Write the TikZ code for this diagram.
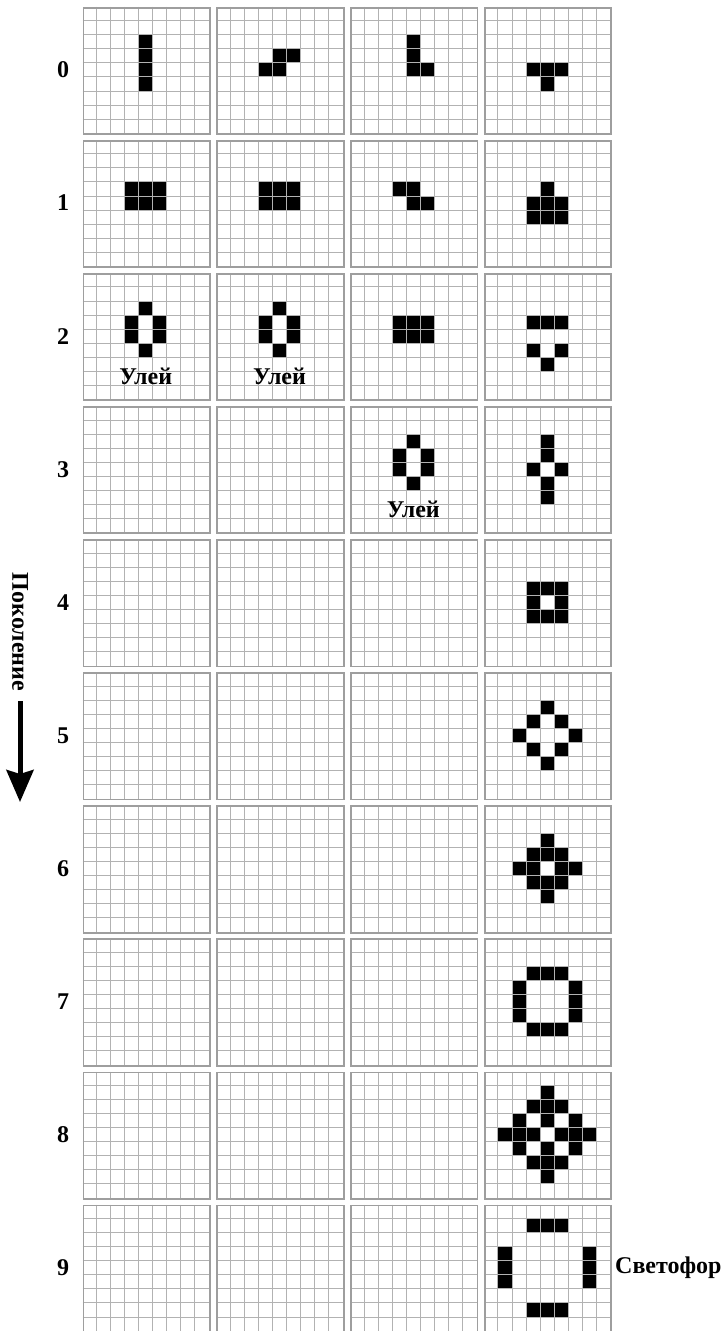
\documentclass[tikz,border=0pt]{standalone}
\usepackage{fontspec}
\setmainfont{Liberation Serif}
\usetikzlibrary{arrows.meta}
\definecolor{gridgray}{RGB}{178,178,178}
\definecolor{bordergray}{RGB}{158,158,158}
\newcommand\cellsz{14.05}
\newcommand\panelsz{126.45}
\tikzset{
  gridline/.style={draw=gridgray, line width=1pt},
  panelbox/.style={draw=bordergray, line width=1.8pt, anchor=north west, inner sep=0pt,
    minimum width=126.45pt, minimum height=126.45pt},
  lbl/.style={font=\fontsize{24}{28}\selectfont\bfseries, text=black},
  genarrow/.style={line width=5pt, -{Stealth[width=27pt,length=32pt,inset=4pt]}},
}
\newcommand\lifecells[3]{%
  \begin{scope}[shift={({82.5+133.8*#1},{6.7+133.1*#2})}]
    \foreach \i/\j in {#3} {\fill[black] ({\i*\cellsz},{\j*\cellsz}) rectangle ++(\cellsz,\cellsz);}
  \end{scope}}
\newcommand\lifepanel[2]{%
  \begin{scope}[shift={({82.5+133.8*#1},{6.7+133.1*#2})}]
    \foreach \k in {1,...,8} {
      \draw[gridline] ({\k*\cellsz},0) -- ({\k*\cellsz},\panelsz);
      \draw[gridline] (0,{\k*\cellsz}) -- (\panelsz,{\k*\cellsz});
    }
    \node[panelbox] (p#1#2) at (0,0) {};
  \end{scope}}
\begin{document}
\begin{tikzpicture}[x=1pt,y=-1pt]
\useasboundingbox (0,0) rectangle (728,1331);
\clip (0,0) rectangle (728,1331);
% generation 0
\lifecells{0}{0}{4/2,4/3,4/4,4/5}
\lifecells{1}{0}{4/3,5/3,3/4,4/4}
\lifecells{2}{0}{4/2,4/3,4/4,5/4}
\lifecells{3}{0}{3/4,4/4,5/4,4/5}
% generation 1
\lifecells{0}{1}{3/3,4/3,5/3,3/4,4/4,5/4}
\lifecells{1}{1}{3/3,4/3,5/3,3/4,4/4,5/4}
\lifecells{2}{1}{3/3,4/3,4/4,5/4}
\lifecells{3}{1}{4/3,3/4,4/4,5/4,3/5,4/5,5/5}
% generation 2
\lifecells{0}{2}{4/2,3/3,5/3,3/4,5/4,4/5}
\lifecells{1}{2}{4/2,3/3,5/3,3/4,5/4,4/5}
\lifecells{2}{2}{3/3,4/3,5/3,3/4,4/4,5/4}
\lifecells{3}{2}{3/3,4/3,5/3,3/5,5/5,4/6}
% generation 3
\lifecells{2}{3}{4/2,3/3,5/3,3/4,5/4,4/5}
\lifecells{3}{3}{4/2,4/3,3/4,5/4,4/5,4/6}
% generations 4-9
\lifecells{3}{4}{3/3,4/3,5/3,3/4,5/4,3/5,4/5,5/5}
\lifecells{3}{5}{4/2,3/3,5/3,2/4,6/4,3/5,5/5,4/6}
\lifecells{3}{6}{4/2,3/3,4/3,5/3,2/4,3/4,5/4,6/4,3/5,4/5,5/5,4/6}
\lifecells{3}{7}{3/2,4/2,5/2,2/3,2/4,2/5,6/3,6/4,6/5,3/6,4/6,5/6}
\lifecells{3}{8}{4/1,3/2,4/2,5/2,2/3,4/3,6/3,1/4,2/4,3/4,5/4,6/4,7/4,2/5,4/5,6/5,3/6,4/6,5/6,4/7}
\lifecells{3}{9}{3/1,4/1,5/1,1/3,1/4,1/5,7/3,7/4,7/5,3/7,4/7,5/7}
% grids
\foreach \r in {0,...,9} {
  \foreach \c in {0,...,3} { \lifepanel{\c}{\r} }
  \node[lbl] (r\r) at (63,{6.7+133.1*\r+63.2}) {\r};
}
% labels
\node[lbl, anchor=base, inner sep=0pt] (ul1) at ({82.5+63.2},{6.7+133.1*2+112}) {Улей};
\node[lbl, anchor=base, inner sep=0pt] (ul2) at ({82.5+133.8+63.2},{6.7+133.1*2+112}) {Улей};
\node[lbl, anchor=base, inner sep=0pt] (ul3) at ({82.5+133.8*2+63.2},{6.7+133.1*3+111}) {Улей};
\node[lbl, anchor=west, inner sep=0pt] (svet) at (615,{6.7+133.1*9+63.2}) {Светофор};
\node[lbl, rotate=-90] (gen) at (20,632) {Поколение};
\coordinate (gs) at (20,701);
\coordinate (ge) at (20,802);
\draw[genarrow] (gs) -- (ge);
\end{tikzpicture}
\end{document}
